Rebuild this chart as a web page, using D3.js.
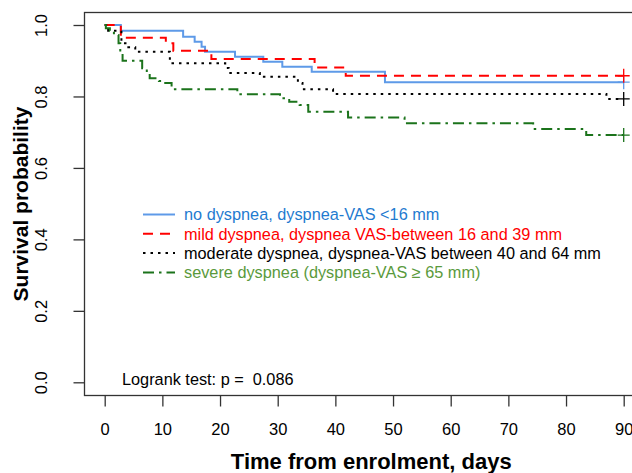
<!DOCTYPE html>
<html>

<head>
    <meta charset="utf-8">
    <title>Kaplan-Meier by dyspnea</title>
    <script src="https://cdn.jsdelivr.net/npm/d3@7"></script>
    <style>
        body { margin: 0; background: #fff; }
        svg { display: block; font-family: "Liberation Sans", Arial, sans-serif; }
    </style>
</head>

<body>
    <svg width="632" height="473"></svg>
    <script>
        // step points: [day, survival]
        const noDyspnea = [[0, 1], [2.8, 0.984], [13.6, 0.967], [15.6, 0.953], [16.8, 0.939], [17.4, 0.925],
            [22.6, 0.911], [27.5, 0.897], [30.8, 0.883], [35.9, 0.869], [48.6, 0.840], [90, 0.840]]
        const mildDyspnea = [[0, 1], [2.8, 0.964], [10.6, 0.949], [11.9, 0.928], [18.5, 0.905],
            [36.4, 0.881], [41.8, 0.858], [90, 0.858]]
        const moderateDyspnea = [[0, 1], [0.6, 0.984], [2.9, 0.949], [4.1, 0.938], [5.3, 0.925], [11.3, 0.893],
            [20.9, 0.880], [21.5, 0.866], [26.9, 0.855], [33.5, 0.838], [34.3, 0.820], [39.6, 0.807],
            [87.0, 0.793], [90, 0.793]]
        const severeDyspnea = [[0, 1], [0.2, 0.991], [0.9, 0.984], [1.6, 0.972], [2.4, 0.949], [2.7, 0.921],
            [3.1, 0.900], [6.5, 0.879], [7.3, 0.868], [7.8, 0.851], [9.4, 0.843], [10.5, 0.838], [11.6, 0.820],
            [23.0, 0.806], [30.4, 0.795], [32.0, 0.785], [33.8, 0.776], [35.3, 0.757], [42.2, 0.741],
            [52.0, 0.725], [74.3, 0.709], [83.5, 0.692], [90, 0.692]]

        const legendLabels = ['no dyspnea, dyspnea-VAS <16 mm', 'mild dyspnea, dyspnea VAS-between 16 and 39 mm',
            'moderate dyspnea, dyspnea-VAS between 40 and 64 mm', 'severe dyspnea (dyspnea-VAS \u2265 65 mm)']
        const xTicks = [0, 10, 20, 30, 40, 50, 60, 70, 80, 90]
        const yTicks = [0, 0.2, 0.4, 0.6, 0.8, 1.0]
        const censorTime = 90
        const pValueText = 'Logrank test: p =  0.086'

        const series = [
            { data: noDyspnea, stroke: '#5e9ae8', text: '#1f7bd0', dash: null },
            { data: mildDyspnea, stroke: '#ff0000', text: '#ff0000', dash: '10,7' },
            { data: moderateDyspnea, stroke: '#000000', text: '#000000', dash: '2.5,5' },
            { data: severeDyspnea, stroke: '#1b731b', text: '#5a9a3c', dash: '11,5,2.5,5' }
        ]

        const svg = d3.select('svg')
        const BOX = { left: 84.5, top: 12.5, right: 658, bottom: 395.5 }

        const x = d3.scaleLinear().domain([0, 90]).range([104.7, 623.7])
        const y = d3.scaleLinear().domain([0, 1]).range([382.3, 25])

        // frame (right edge falls outside the picture)
        svg.append('rect')
            .attr('x', BOX.left).attr('y', BOX.top)
            .attr('width', BOX.right - BOX.left).attr('height', BOX.bottom - BOX.top)
            .attr('fill', 'none').attr('stroke', '#333').attr('stroke-width', 1.3)

        // x axis
        const xAxis = svg.append('g').attr('transform', `translate(0,${BOX.bottom})`)
            .call(d3.axisBottom(x).tickValues(xTicks).tickSize(11).tickSizeOuter(0).tickPadding(17))
        xAxis.select('.domain').remove()
        xAxis.selectAll('line').attr('stroke', '#333').attr('stroke-width', 1.3)
        xAxis.selectAll('text').attr('font-size', 16.5).attr('fill', '#000')
            .attr('font-family', '"Liberation Sans", Arial, sans-serif')

        // y axis
        const yAxis = svg.append('g').attr('transform', `translate(${BOX.left},0)`)
            .call(d3.axisLeft(y).tickValues(yTicks).tickFormat(d3.format('.1f')).tickSize(11).tickSizeOuter(0))
        yAxis.select('.domain').remove()
        yAxis.selectAll('line').attr('stroke', '#333').attr('stroke-width', 1.3)
        yAxis.selectAll('text')
            .attr('font-size', 16.5).attr('fill', '#000')
            .attr('font-family', '"Liberation Sans", Arial, sans-serif')
            .attr('x', null).attr('dy', null)
            .attr('text-anchor', 'middle')
            .attr('transform', d => `translate(-43,0) rotate(-90) translate(0,5)`)

        // titles
        svg.append('text')
            .attr('x', (BOX.left + BOX.right) / 2).attr('y', 469)
            .attr('text-anchor', 'middle').attr('font-weight', 'bold').attr('font-size', 22)
            .text('Time from enrolment, days')
        svg.append('text')
            .attr('transform', `translate(28,${(BOX.top + BOX.bottom) / 2}) rotate(-90)`)
            .attr('text-anchor', 'middle').attr('font-weight', 'bold').attr('font-size', 21)
            .text('Survival probability')

        // curves
        const line = d3.line().x(d => x(d[0])).y(d => y(d[1])).curve(d3.curveStepAfter)
        series.forEach(s => {
            svg.append('path')
                .datum(s.data)
                .attr('d', line)
                .attr('fill', 'none')
                .attr('stroke', s.stroke)
                .attr('stroke-width', 2)
                .attr('stroke-dasharray', s.dash)
            // censor mark
            const last = s.data[s.data.length - 1]
            const cx = x(censorTime), cy = y(last[1])
            svg.append('path')
                .attr('d', `M${cx - 6},${cy}H${cx + 6}M${cx},${cy - 7}V${cy + 7}`)
                .attr('stroke', s.stroke).attr('stroke-width', 1.3)
        })

        // legend
        const legend = svg.append('g')
        legendLabels.forEach((label, i) => {
            const ly = 214.5 + i * 19.3
            legend.append('line')
                .attr('x1', 143).attr('x2', 175).attr('y1', ly).attr('y2', ly)
                .attr('stroke', series[i].stroke).attr('stroke-width', 2)
                .attr('stroke-dasharray', series[i].dash)
            legend.append('text')
                .attr('x', 184).attr('y', ly + 5.8)
                .attr('font-size', 16.3).attr('fill', series[i].text)
                .text(label)
        })

        svg.append('text')
            .attr('x', 122).attr('y', 385)
            .attr('font-size', 16.3)
            .style('white-space', 'pre')
            .text(pValueText)
    </script>
</body>

</html>
